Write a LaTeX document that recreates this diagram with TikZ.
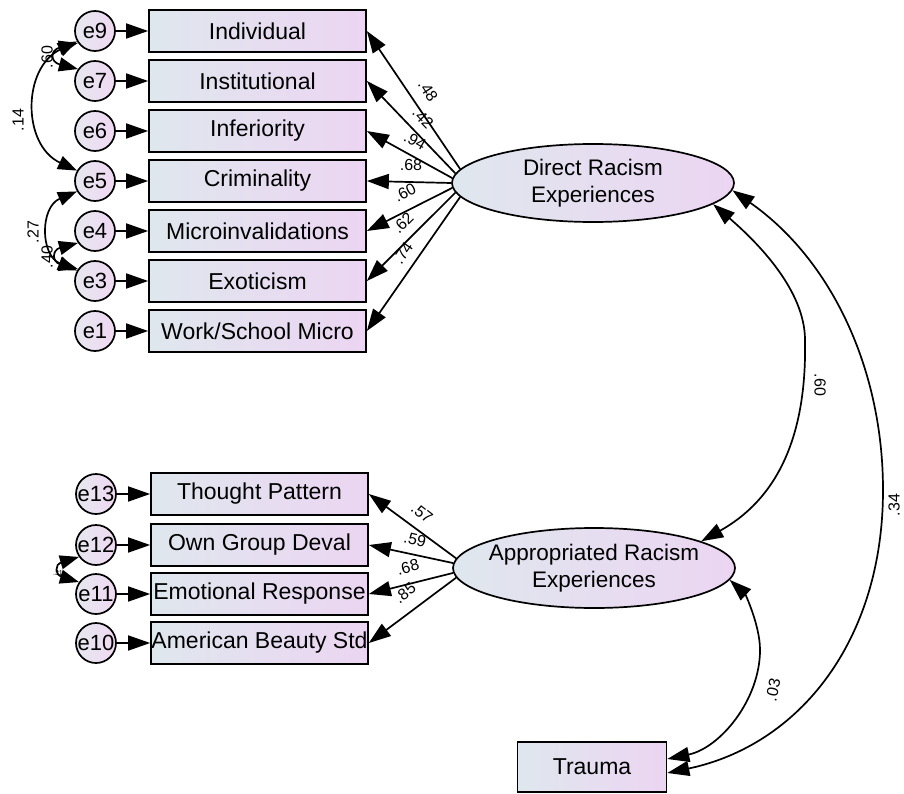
\documentclass[tikz,border=0pt]{standalone}
\usepackage{fontspec}
\setmainfont{Liberation Sans}
\usetikzlibrary{arrows.meta,shapes.geometric}
\definecolor{boxL}{HTML}{DFE7EE}
\definecolor{boxR}{HTML}{ECD5F2}
\definecolor{cirL}{HTML}{E6E8EF}
\definecolor{cirR}{HTML}{F0D8F3}
\begin{document}
\begin{tikzpicture}[x=1pt,y=-1pt,
  obs/.style={draw, line width=1.7pt, minimum width=217pt, minimum height=42pt, inner sep=0pt,
    left color=boxL, right color=boxR, font=\fontsize{23}{25}\selectfont},
  err/.style={circle, draw, line width=1.7pt, minimum size=40pt, inner sep=0pt,
    left color=cirL, right color=cirR, font=\fontsize{22}{24}\selectfont},
  lat/.style={ellipse, draw, line width=1.7pt, minimum width=282pt, minimum height=78pt,
    inner xsep=-40pt, inner ysep=-8pt,
    left color=boxL, right color=boxR, align=center, font=\fontsize{22.5}{27}\selectfont},
  load/.style={-{Triangle[length=22pt,width=15pt]}, line width=1.7pt},
  cov/.style={{Triangle[length=22pt,width=15pt]}-{Triangle[length=22pt,width=15pt]}, line width=1.7pt},
  scov/.style={{Triangle[length=19pt,width=14pt]}-{Triangle[length=19pt,width=14pt]}, line width=1.7pt},
  lbl/.style={font=\fontsize{16}{17}\selectfont, inner sep=0pt}
]
\useasboundingbox (0,0) rectangle (904,794);

% observed indicators (upper)
\node[obs] (ind) at (257.5,31)  {Individual};
\node[obs] (ins) at (257.5,81)  {Institutional};
\node[obs] (inf) at (257.5,131) {Inferiority};
\node[obs] (cri) at (257.5,181) {Criminality};
\node[obs] (mic) at (257.5,231) {Microinvalidations};
\node[obs] (exo) at (257.5,281) {Exoticism};
\node[obs] (wsm) at (257.5,331) {Work/School Micro};

% error terms (upper)
\node[err] (e9) at (95,31)  {e9};
\node[err] (e7) at (95,81)  {e7};
\node[err] (e6) at (95,131) {e6};
\node[err] (e5) at (95,181) {e5};
\node[err] (e4) at (95,231) {e4};
\node[err] (e3) at (95,281) {e3};
\node[err] (e1) at (95,331) {e1};

% observed indicators (lower)
\node[obs] (tp)  at (259.5,494) {Thought Pattern};
\node[obs] (ogd) at (259.5,545) {Own Group Deval};
\node[obs] (er)  at (259.5,594) {Emotional Response};
\node[obs] (abs) at (259.5,643) {American Beauty Std};

% error terms (lower)
\node[err] (e13) at (96,494) {e13};
\node[err] (e12) at (96,545) {e12};
\node[err] (e11) at (96,594) {e11};
\node[err] (e10) at (96,643) {e10};

% latent variables
\node[lat] (dir) at (593,183) {Direct Racism\\Experiences};
\node[lat, minimum height=80pt] (app) at (594,568) {Appropriated Racism\\Experiences};
\node[obs, minimum width=149pt, minimum height=50pt] (tra) at (592,767) {Trauma};

% error arrows
\foreach \e/\b in {e9/ind,e7/ins,e6/inf,e5/cri,e4/mic,e3/exo,e1/wsm,e13/tp,e12/ogd,e11/er,e10/abs}
  \draw[load] (\e) -- (\b.west);

% loadings
\draw[load] (dir.174) -- (ind.east);
\draw[load] (dir.176) -- (ins.east);
\draw[load] (dir.178) -- (inf.east);
\draw[load] (dir.180) -- (cri.east);
\draw[load] (dir.182) -- (mic.east);
\draw[load] (dir.184) -- (exo.east);
\draw[load] (dir.186) -- (wsm.east);
\draw[load] (app.176) -- (tp.east);
\draw[load] (app.178) -- (ogd.east);
\draw[load] (app.182) -- (er.east);
\draw[load] (app.184) -- (abs.east);

\node[lbl, rotate=-57] (l1) at (428,91)  {.48};
\node[lbl, rotate=-46] (l2) at (423,118) {.42};
\node[lbl, rotate=-29] (l3) at (415,141) {.94};
\node[lbl]             (l4) at (411,165) {.68};
\node[lbl, rotate=27]  (l5) at (405,193) {.60};
\node[lbl, rotate=45]  (l6) at (403,223) {.62};
\node[lbl, rotate=56]  (l7) at (403,253) {.74};
\node[lbl, rotate=-38] (l8) at (422,513) {.57};
\node[lbl, rotate=-13] (l9) at (415,540) {.59};
\node[lbl, rotate=15]  (l10) at (408,567) {.68};
\node[lbl, rotate=38]  (l11) at (405,593) {.85};

% error covariances
\draw[scov] (e9.215) .. controls (50,50) and (50,62) .. (e7.145);
\draw[scov] (e9.210) .. controls (22,68) and (22,145) .. (e5.150);
\draw[scov] (e5.210) .. controls (40,207) and (40,255) .. (e3.150);
\draw[scov] (e4.215) .. controls (52,250) and (52,262) .. (e3.145);
\draw[scov] (e12.215) .. controls (55,564) and (55,575) .. (e11.145);
\node[lbl, rotate=90] (c1) at (47,57)  {.60};
\node[lbl, rotate=90] (c2) at (18,120) {.14};
\node[lbl, rotate=90] (c3) at (33,232) {.27};
\node[lbl, rotate=90] (c4) at (47,257) {.40};
\node[lbl, font=\fontsize{7}{8}\selectfont] (c5) at (58,573) {.31};

% latent covariances
\draw[cov] (dir.-10) .. controls (757,242) and (805,290) .. (805,340)
  .. controls (807,440) and (775,500) .. (app.14);
\draw[cov] (dir.-3) .. controls (832,260) and (883,370) .. (883,490)
  .. controls (883,640) and (800,745) .. ([yshift=-6pt]tra.east);
\draw[cov] (app.-5) .. controls (745,594) and (760,625) .. (760,650)
  .. controls (760,700) and (720,748) .. ([yshift=8pt]tra.east);
\node[lbl, rotate=-90] (c6) at (820,385) {.60};
\node[lbl, rotate=90]  (c7) at (894,505) {.34};
\node[lbl, rotate=78]  (c8) at (773,690) {.03};
\end{tikzpicture}
\end{document}
